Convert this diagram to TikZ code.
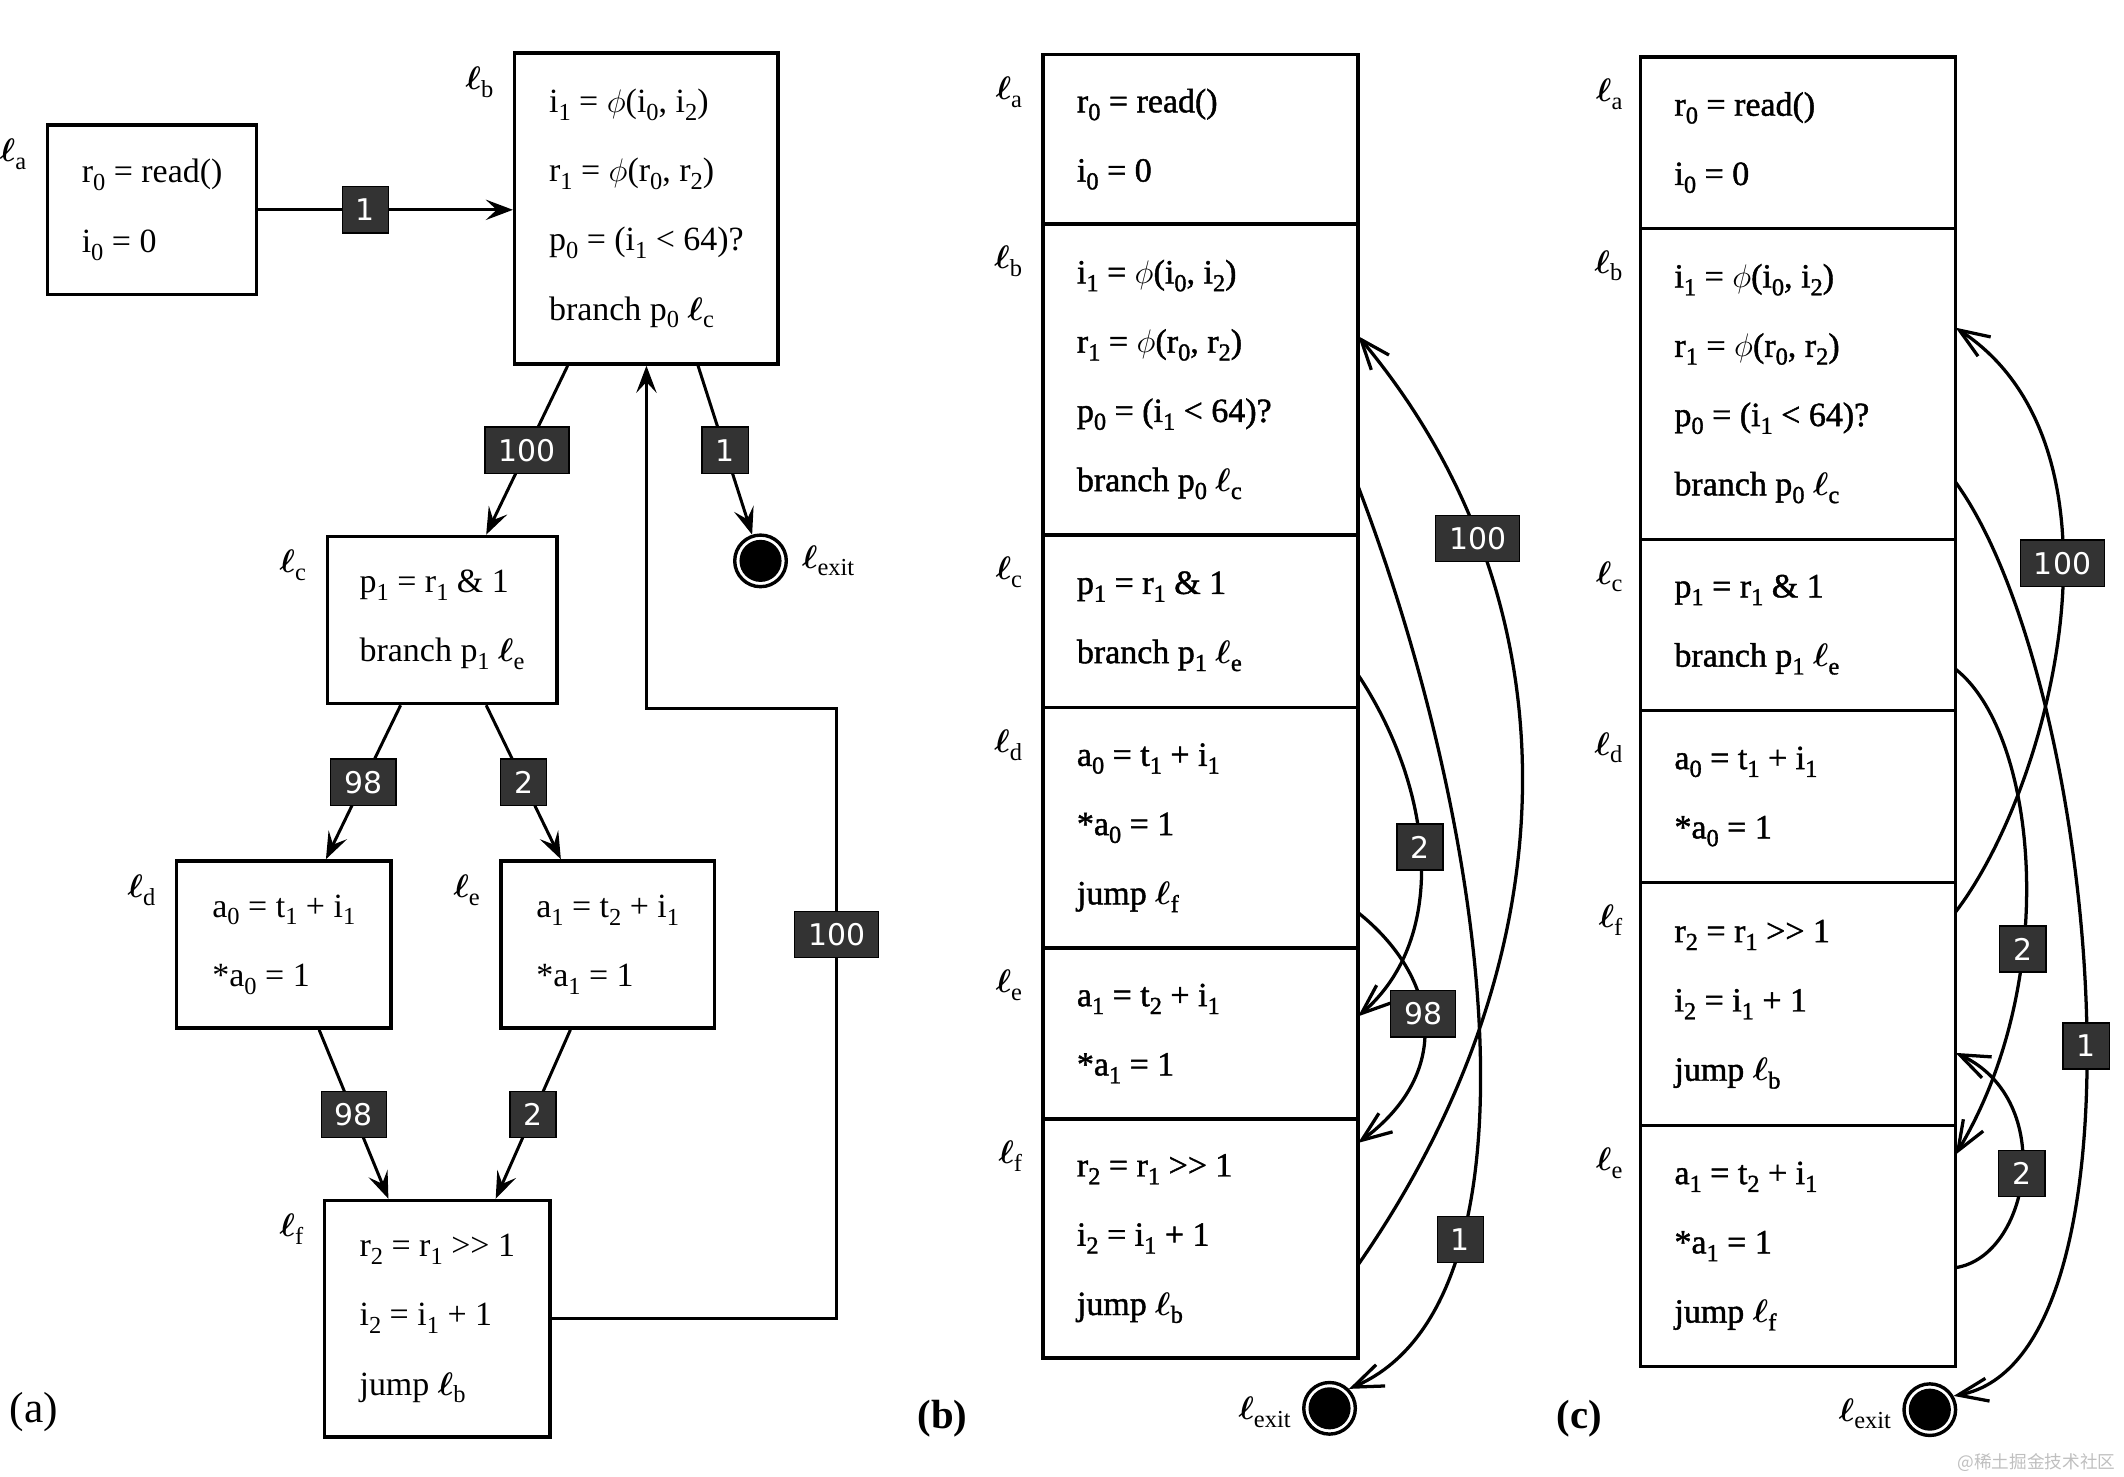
\documentclass[tikz,border=0pt]{standalone}
\usepackage{amsmath}
\usepackage{fontspec}
\setmainfont{Liberation Serif}
\newfontfamily\bcfont{Liberation Serif}[FakeBold=1.3]
\newfontfamily\wfont{DejaVu Sans}
\newfontfamily\cjkfont{Noto Sans CJK SC}
\usetikzlibrary{arrows.meta,calc}
\newcommand{\sbt}[1]{\raisebox{-0.5ex}{\fontsize{9}{9}\selectfont #1}}
\newcommand{\ellx}[1]{$\boldsymbol{\ell}$\sbt{#1}}
\definecolor{wgray}{HTML}{333333}
\tikzset{
  blk/.style={draw, line width=1.3pt, align=left, inner sep=0pt, font={\fontsize{12.5}{25.5}\selectfont}},
  sec/.style={draw, line width=1.2pt, anchor=north west, align=flush left, text width=91pt, inner xsep=12.5pt, inner ysep=0pt, outer sep=0pt, minimum width=116pt, font={\bcfont\fontsize{12.5}{25.5}\selectfont}},
  llab/.style={anchor=north east, inner sep=0pt, font={\fontsize{12.5}{15}\selectfont}},
  wlab/.style={draw=black, line width=0.5pt, fill=wgray, text=white, font={\wfont\fontsize{11}{13}\selectfont}, minimum height=17pt, minimum width=17pt, inner xsep=5pt, inner ysep=0pt},
  arrA/.style={line width=1.1pt, -{Stealth[length=10pt,width=7.5pt,inset=4pt]}},
  arrB/.style={line width=1.2pt, -{Straight Barb[length=11pt,width=8.5pt]}},
  exitn/.style={circle, draw, line width=1.25pt, minimum size=19pt, inner sep=0pt, path picture={\fill (path picture bounding box.center) circle (7.75pt);}},
  capt/.style={inner sep=0pt, font={\fontsize{16}{18}\selectfont}},
}
\begin{document}
\begin{tikzpicture}[x=0.5pt,y=-0.5pt]
\useasboundingbox (0,0) rectangle (1564,1087);

% ---------------- (a) ----------------
\node[blk, minimum width=77pt, minimum height=62.5pt] (la) at (112,154.5) {r\sbt{0} = read()\\i\sbt{0} = 0};
\node[blk, minimum width=97pt, minimum height=114.5pt] (lb) at (476,153.5) {i\sbt{1} = $\phi$(i\sbt{0}, i\sbt{2})\\r\sbt{1} = $\phi$(r\sbt{0}, r\sbt{2})\\p\sbt{0} = (i\sbt{1} < 64)?\\branch p\sbt{0} \ellx{c}};
\node[blk, minimum width=84.5pt, minimum height=61.5pt] (lc) at (325.5,456.5) {p\sbt{1} = r\sbt{1} \& 1\\branch p\sbt{1} \ellx{e}};
\node[blk, minimum width=79pt, minimum height=61.5pt] (ld) at (209,695.5) {a\sbt{0} = t\sbt{1} + i\sbt{1}\\{}*a\sbt{0} = 1};
\node[blk, minimum width=78.5pt, minimum height=61.5pt] (le) at (447.5,695.5) {a\sbt{1} = t\sbt{2} + i\sbt{1}\\{}*a\sbt{1} = 1};
\node[blk, minimum width=83pt, minimum height=87pt] (lf) at (322,971) {r\sbt{2} = r\sbt{1} >{}> 1\\i\sbt{2} = i\sbt{1} + 1\\jump \ellx{b}};
\node[exitn] (exa) at (560,413) {};

\node[llab] (ta) at ([xshift=-7pt,yshift=-5.5pt]la.north west) {\ellx{a}};
\node[llab] (tb) at ([xshift=-7pt,yshift=-5.5pt]lb.north west) {\ellx{b}};
\node[llab] (tc) at ([xshift=-7pt,yshift=-5.5pt]lc.north west) {\ellx{c}};
\node[llab] (td) at ([xshift=-7pt,yshift=-5.5pt]ld.north west) {\ellx{d}};
\node[llab] (te) at ([xshift=-7pt,yshift=-5.5pt]le.north west) {\ellx{e}};
\node[llab] (tf) at ([xshift=-7pt,yshift=-5.5pt]lf.north west) {\ellx{f}};
\node[llab, anchor=west] (texa) at ([xshift=5pt]exa.east) {\ellx{exit}};

\draw[arrA] (la.east) -- (la.east -| lb.west) node[wlab, pos=0.42] (w1) {1};
\draw[arrA] ([xshift=-29pt]lb.south) -- ([xshift=16.25pt]lc.north) node[wlab, midway] (w2) {100};
\draw[arrA] ([xshift=19pt]lb.south) -- (exa) node[wlab, midway] (w3) {1};
\draw[arrA] ([xshift=-15.25pt]lc.south) -- ([xshift=15.5pt]ld.north) node[wlab, midway] (w4) {98};
\draw[arrA] ([xshift=16.25pt]lc.south) -- ([xshift=-17.25pt]le.north) node[wlab, midway] (w5) {2};
\draw[arrA] ([xshift=13pt]ld.south) -- ([xshift=-18pt]lf.north) node[wlab, midway] (w6) {98};
\draw[arrA] ([xshift=-13.75pt]le.south) -- ([xshift=21.5pt]lf.north) node[wlab, midway] (w7) {2};
\coordinate (k1) at (616,971);
\coordinate (k2) at (616,522);
\draw[arrA] (lf.east) -- (k1) -- (k2) node[wlab, pos=0.63] (w8) {100} -- (k2 -| lb.south) -- (lb.south);

\node[capt] (capa) at (25,1040) {(a)};

% ---------------- (b) ----------------
\node[sec, minimum height=62.5pt] (ba) at (768,40) {r\sbt{0} = read()\\i\sbt{0} = 0};
\node[sec, minimum height=114.5pt] (bb) at (768,165) {i\sbt{1} = $\phi$(i\sbt{0}, i\sbt{2})\\r\sbt{1} = $\phi$(r\sbt{0}, r\sbt{2})\\p\sbt{0} = (i\sbt{1} < 64)?\\branch p\sbt{0} \ellx{c}};
\node[sec, minimum height=63.5pt] (bc) at (768,394) {p\sbt{1} = r\sbt{1} \& 1\\branch p\sbt{1} \ellx{e}};
\node[sec, minimum height=88.5pt] (bd) at (768,521) {a\sbt{0} = t\sbt{1} + i\sbt{1}\\{}*a\sbt{0} = 1\\jump \ellx{f}};
\node[sec, minimum height=63pt] (be) at (768,698) {a\sbt{1} = t\sbt{2} + i\sbt{1}\\{}*a\sbt{1} = 1};
\node[sec, minimum height=88pt] (bf) at (768,824) {r\sbt{2} = r\sbt{1} >{}> 1\\i\sbt{2} = i\sbt{1} + 1\\jump \ellx{b}};
\node[exitn] (bx) at (979,1037) {};

\node[llab] (tba) at ([xshift=-7.5pt,yshift=-8pt]ba.north west) {\ellx{a}};
\node[llab] (tbb) at ([xshift=-7.5pt,yshift=-8pt]bb.north west) {\ellx{b}};
\node[llab] (tbc) at ([xshift=-7.5pt,yshift=-8pt]bc.north west) {\ellx{c}};
\node[llab] (tbd) at ([xshift=-7.5pt,yshift=-8pt]bd.north west) {\ellx{d}};
\node[llab] (tbe) at ([xshift=-7.5pt,yshift=-8pt]be.north west) {\ellx{e}};
\node[llab] (tbf) at ([xshift=-7.5pt,yshift=-8pt]bf.north west) {\ellx{f}};
\node[llab, anchor=east] (tbx) at ([xshift=-4pt,yshift=-1.5pt]bx.west) {\ellx{exit}};

\draw[arrB] ($(bf.north east)!0.61!(bf.south east)$) .. controls (1161,700) and (1161,440) .. ($(bb.north east)!0.36!(bb.south east)$) node[wlab, pos=0.76] (b100) {100};
\draw[arrB] ($(bb.north east)!0.843!(bb.south east)$) .. controls (1100,620) and (1140,960) .. (bx.45) node[wlab, pos=0.72] (b1) {1};
\draw[arrB] ($(bc.north east)!0.81!(bc.south east)$) .. controls (1055,580) and (1068,690) .. ($(be.north east)!0.40!(be.south east)$) node[wlab, pos=0.47] (b2) {2};
\draw[arrB] ($(bd.north east)!0.853!(bd.south east)$) .. controls (1060,720) and (1070,790) .. ($(bf.north east)!0.10!(bf.south east)$) node[wlab, pos=0.45] (b98) {98};

\node[capt, font={\bfseries\fontsize{15}{18}\selectfont}] (capb) at (694,1045) {(b)};

% ---------------- (c) ----------------
\node[sec, minimum height=63pt] (ca) at (1208,42) {r\sbt{0} = read()\\i\sbt{0} = 0};
\node[sec, minimum height=114.5pt] (cb) at (1208,168) {i\sbt{1} = $\phi$(i\sbt{0}, i\sbt{2})\\r\sbt{1} = $\phi$(r\sbt{0}, r\sbt{2})\\p\sbt{0} = (i\sbt{1} < 64)?\\branch p\sbt{0} \ellx{c}};
\node[sec, minimum height=63pt] (cc) at (1208,397) {p\sbt{1} = r\sbt{1} \& 1\\branch p\sbt{1} \ellx{e}};
\node[sec, minimum height=63.5pt] (cd) at (1208,523) {a\sbt{0} = t\sbt{1} + i\sbt{1}\\{}*a\sbt{0} = 1};
\node[sec, minimum height=89.5pt] (cf) at (1208,650) {r\sbt{2} = r\sbt{1} >{}> 1\\i\sbt{2} = i\sbt{1} + 1\\jump \ellx{b}};
\node[sec, minimum height=88.5pt] (ce) at (1208,829) {a\sbt{1} = t\sbt{2} + i\sbt{1}\\{}*a\sbt{1} = 1\\jump \ellx{f}};
\node[exitn] (cx) at (1421,1038) {};

\node[llab] (tca) at ([xshift=-6.5pt,yshift=-8pt]ca.north west) {\ellx{a}};
\node[llab] (tcb) at ([xshift=-6.5pt,yshift=-8pt]cb.north west) {\ellx{b}};
\node[llab] (tcc) at ([xshift=-6.5pt,yshift=-8pt]cc.north west) {\ellx{c}};
\node[llab] (tcd) at ([xshift=-6.5pt,yshift=-8pt]cd.north west) {\ellx{d}};
\node[llab] (tcf) at ([xshift=-6.5pt,yshift=-8pt]cf.north west) {\ellx{f}};
\node[llab] (tce) at ([xshift=-6.5pt,yshift=-8pt]ce.north west) {\ellx{e}};
\node[llab, anchor=east] (tcx) at ([xshift=-4pt,yshift=-1.5pt]cx.west) {\ellx{exit}};

\draw[arrB] ($(cf.north east)!0.12!(cf.south east)$) .. controls (1510,580) and (1575,330) .. ($(cb.north east)!0.32!(cb.south east)$) node[wlab, pos=0.58] (c100) {100};
\draw[arrB] ($(cb.north east)!0.817!(cb.south east)$) .. controls (1545,500) and (1590,1000) .. (cx.30) node[wlab, pos=0.54] (c1) {1};
\draw[arrB] ($(cc.north east)!0.76!(cc.south east)$) .. controls (1500,540) and (1518,720) .. ($(ce.north east)!0.12!(ce.south east)$) node[wlab, pos=0.64] (c2a) {2};
\draw[arrB] ($(ce.north east)!0.59!(ce.south east)$) .. controls (1495,925) and (1515,810) .. ($(cf.north east)!0.70!(cf.south east)$) node[wlab, pos=0.5] (c2b) {2};

\node[capt, font={\bfseries\fontsize{15}{18}\selectfont}] (capc) at (1163,1045) {(c)};

\node[inner sep=0pt, anchor=east, text=gray!50, font={\cjkfont\fontsize{6.5}{8}\selectfont}] (wm) at (1558,1077) {@稀土掘金技术社区};
\end{tikzpicture}
\end{document}
